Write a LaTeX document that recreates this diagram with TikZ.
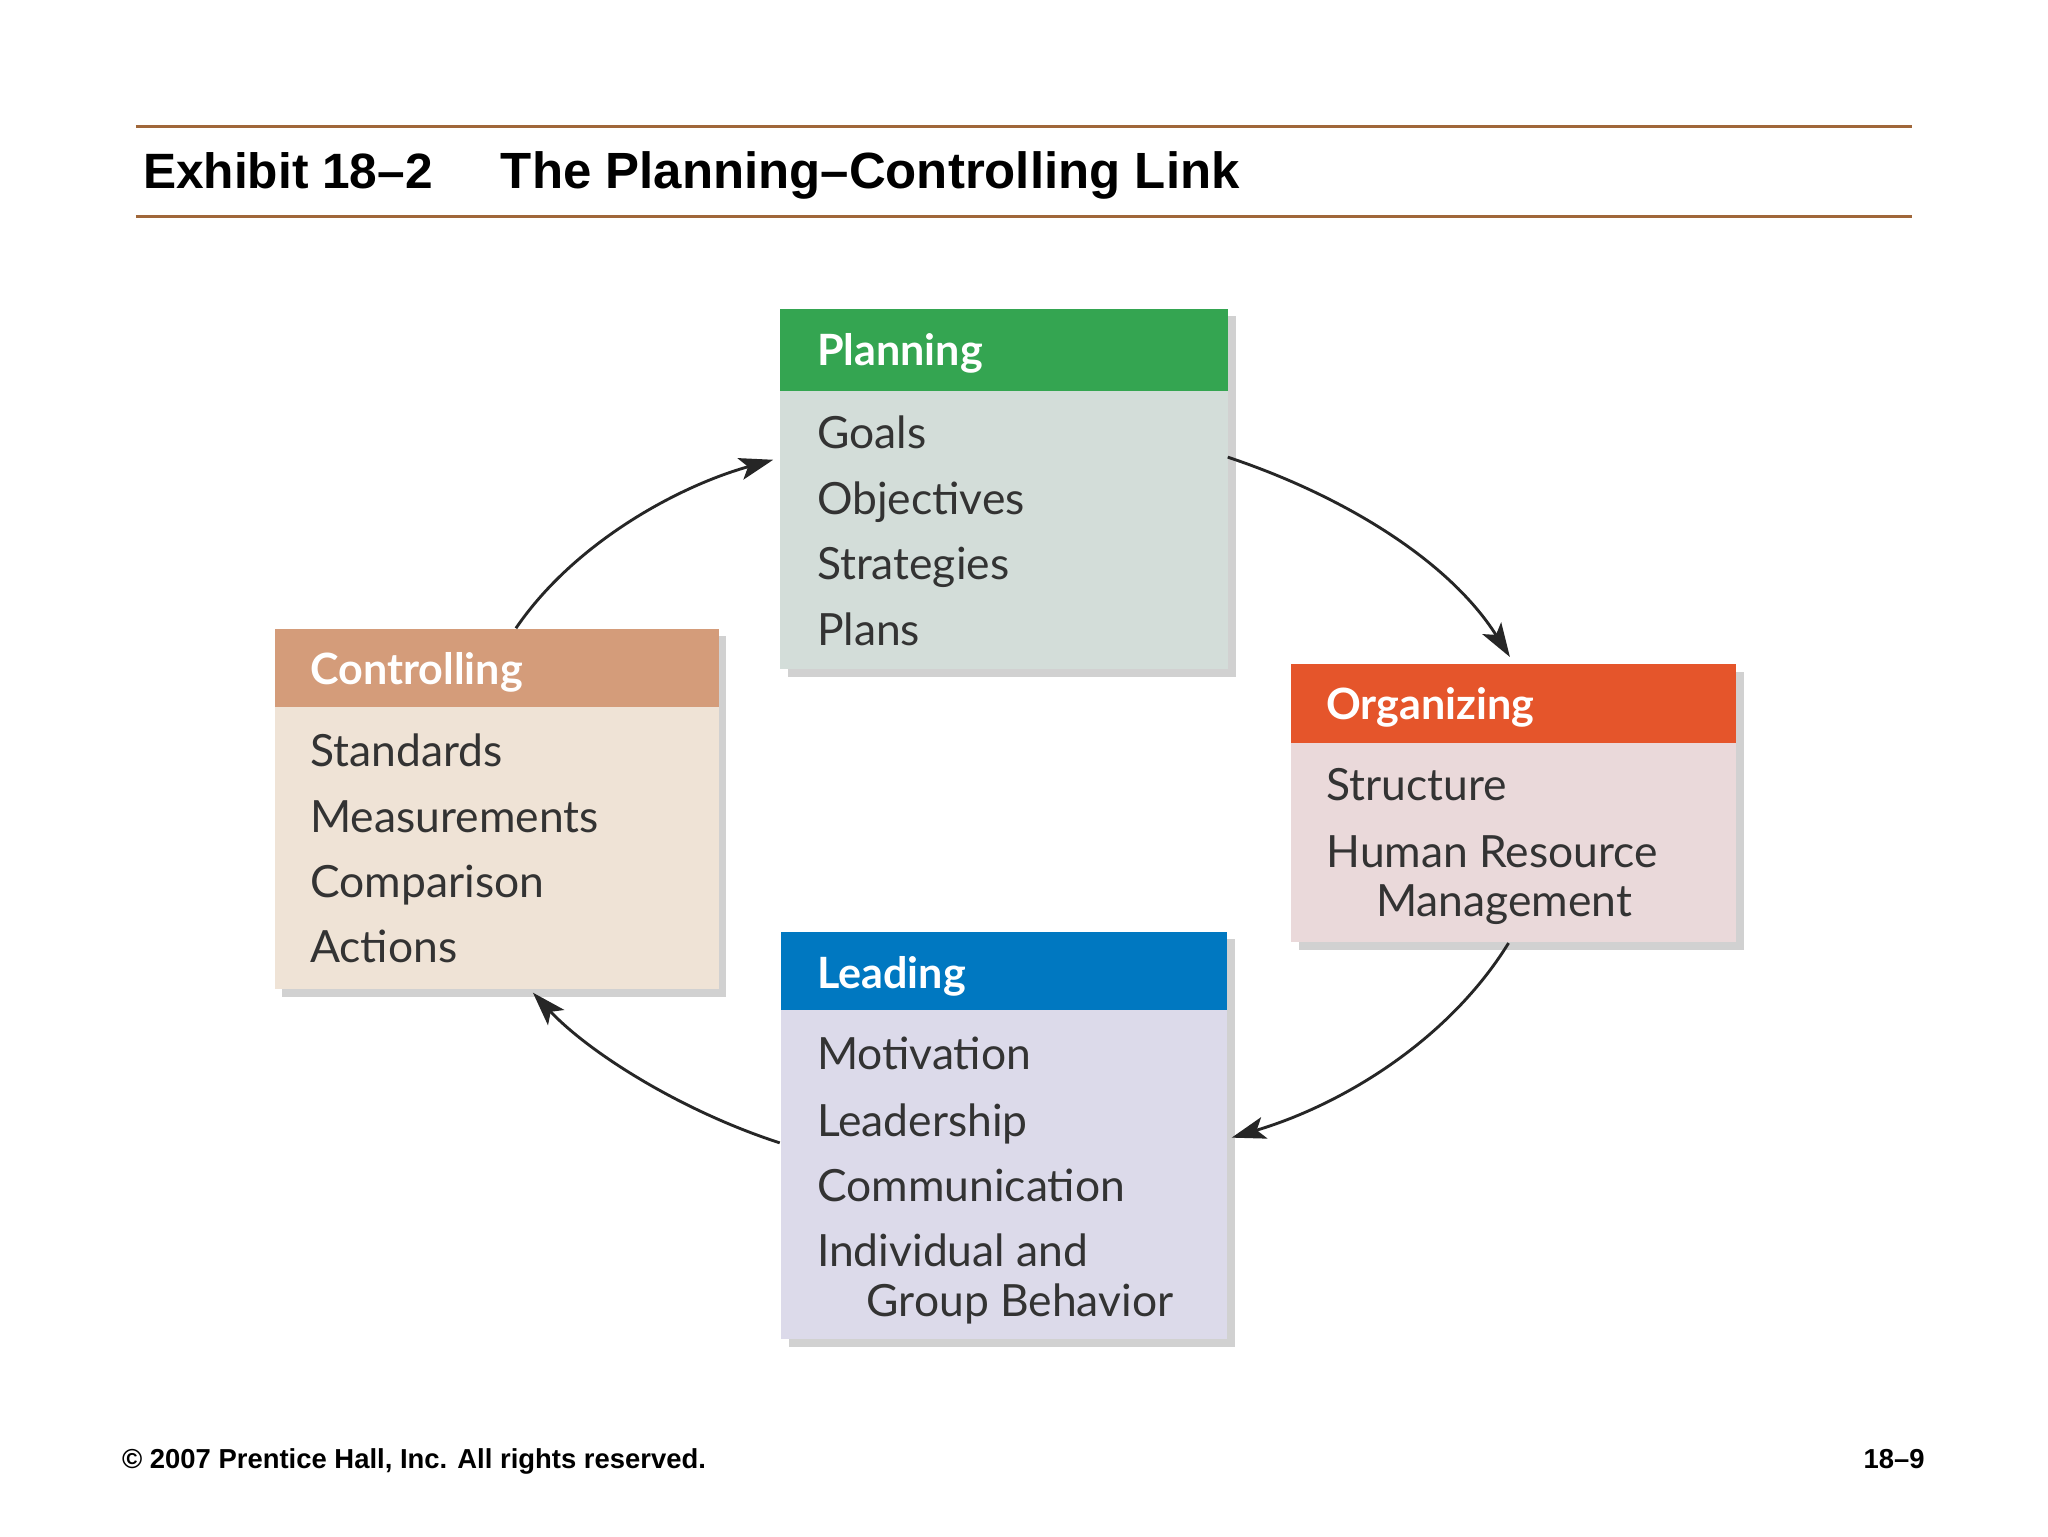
\documentclass[tikz,border=0pt]{standalone}
\usepackage{fontspec}
\setmainfont{Liberation Sans}
\newfontfamily\bodyf{Lato}
\usetikzlibrary{shadows,arrows.meta}
\definecolor{rulec}{HTML}{A0673A}
\definecolor{plH}{HTML}{34A551}\definecolor{plB}{HTML}{D3DDD9}
\definecolor{orH}{HTML}{E5552B}\definecolor{orB}{HTML}{EAD9DA}
\definecolor{leH}{HTML}{0078C1}\definecolor{leB}{HTML}{DCDAEA}
\definecolor{coH}{HTML}{D49C7A}\definecolor{coB}{HTML}{EFE3D6}
\tikzset{
 boxbody/.style={draw=none,anchor=north west,inner sep=0,drop shadow={shadow xshift=6pt,shadow yshift=-6pt,fill=black!45,opacity=.4}},
 hdr/.style={anchor=north west,inner sep=0},
 htext/.style={anchor=base west,text=white,font=\bodyf\bfseries\fontsize{33}{33}\selectfont},
 btext/.style={anchor=base west,font=\bodyf\fontsize{34}{34}\selectfont,text=black!80,align=left},
 cyc/.style={-{Stealth[length=26pt,width=17pt,inset=6pt]},line width=2.2pt,black!85}
}
\begin{document}
\begin{tikzpicture}[x=1pt,y=-1pt]
\useasboundingbox[fill=white] (0,0) rectangle (1568,1176);
\draw[rulec,line width=2.5pt] (104,97) -- (1464,97);
\draw[rulec,line width=2.5pt] (104,166) -- (1464,166);
\node[anchor=base west,font=\bfseries\fontsize{38}{38}\selectfont] (t1) at (106,144) {Exhibit 18–2};
\node[anchor=base west,font=\bfseries\fontsize{39}{39}\selectfont] (t2) at (380,144) {The Planning–Controlling Link};
% Planning
\node[boxbody,fill=plB,minimum width=343,minimum height=276] (pl) at (597,236) {};
\node[hdr,fill=plH,minimum width=343,minimum height=63] (plh) at (597,236) {};
\node[htext] at (622,280) {Planning};
\node[btext] at (622,343) {Goals};
\node[btext] at (622,394) {Objectives};
\node[btext] at (622,444) {Strategies};
\node[btext] at (622,494) {Plans};
% Organizing
\node[boxbody,fill=orB,minimum width=341,minimum height=213] (or) at (988,508) {};
\node[hdr,fill=orH,minimum width=341,minimum height=61] (orh) at (988,508) {};
\node[htext] at (1012,551) {Organizing};
\node[btext] at (1012,613) {Structure};
\node[btext] at (1012,664) {Human Resource};
\node[btext] at (1050,702) {Management};
% Leading
\node[boxbody,fill=leB,minimum width=341,minimum height=312] (le) at (598,713) {};
\node[hdr,fill=leH,minimum width=341,minimum height=60] (leh) at (598,713) {};
\node[htext] at (622,757) {Leading};
\node[btext] at (622,819) {Motivation};
\node[btext] at (622,870) {Leadership};
\node[btext] at (622,920) {Communication};
\node[btext] at (622,970) {Individual and};
\node[btext] at (660,1008) {Group Behavior};
% Controlling
\node[boxbody,fill=coB,minimum width=340,minimum height=276] (co) at (210,481) {};
\node[hdr,fill=coH,minimum width=340,minimum height=60] (coh) at (210,481) {};
\node[htext] at (234,524) {Controlling};
\node[btext] at (234,587) {Standards};
\node[btext] at (234,637) {Measurements};
\node[btext] at (234,687) {Comparison};
\node[btext] at (234,737) {Actions};
% arrows
\coordinate (a1) at (395,481); \coordinate (a2) at (592,352);
\coordinate (b1) at (940,350); \coordinate (b2) at (1156,503);
\coordinate (c1) at (1155,722); \coordinate (c2) at (943,871);
\coordinate (d1) at (597,875); \coordinate (d2) at (408,760);
\draw[cyc] (a1) .. controls (440,415) and (520,372) .. (a2);
\draw[cyc] (b1) .. controls (1030,380) and (1110,430) .. (b2);
\draw[cyc] (c1) .. controls (1110,795) and (1030,845) .. (c2);
\draw[cyc] (d1) .. controls (520,850) and (450,805) .. (d2);
\node[anchor=base west,font=\bfseries\fontsize{21}{21}\selectfont] (f1) at (90,1124) {© 2007 Prentice Hall, Inc. All rights reserved.};
\node[anchor=base east,font=\bfseries\fontsize{21}{21}\selectfont] (f2) at (1477,1124) {18–9};
\end{tikzpicture}
\end{document}
